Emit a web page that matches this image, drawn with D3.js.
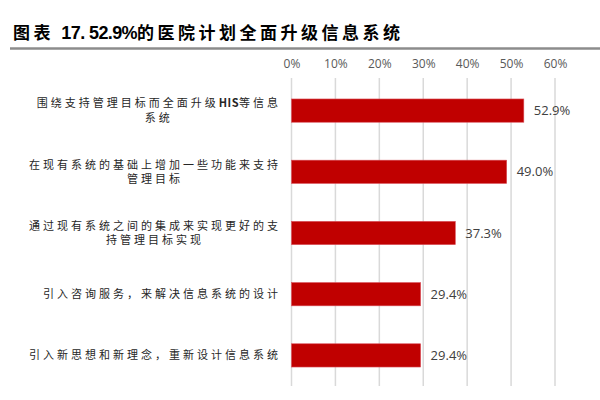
<!DOCTYPE html>
<html>
<head>
<meta charset="utf-8">
<script src="https://cdn.jsdelivr.net/npm/d3@7"></script>
<style>
  body { margin: 0; background: #fff; }
  svg { display: block; }
</style>
</head>
<body>
<div></div>
<script>
const width = 600;
const height = 400;

const categories = [
    "围绕支持管理目标而全面升级HIS等信息\n系统",
    "在现有系统的基础上增加一些功能来支持\n管理目标",
    "通过现有系统之间的集成来实现更好的支\n持管理目标实现",
    "引入咨询服务，来解决信息系统的设计",
    "引入新思想和新理念，重新设计信息系统"
];
const values = [52.9, 49.0, 37.3, 29.4, 29.4];
const tickValues = [0, 10, 20, 30, 40, 50, 60];

const svg = d3.select('div')
    .append('svg')
    .attr('width', width)
    .attr('height', height);

// title
const title = svg.append('text')
    .attr('x', 13)
    .attr('y', 39)
    .attr('fill', '#000')
    .style('font-weight', 'bold');
title.append('tspan')
    .style('font-family', '"Noto Sans CJK SC"')
    .style('font-size', '17px')
    .style('letter-spacing', '3.5px')
    .text('图表 ');
title.append('tspan')
    .style('font-family', '"Liberation Sans", Arial')
    .style('font-size', '18px')
    .style('letter-spacing', '-0.6px')
    .text('17. 52.9%');
title.append('tspan')
    .style('font-family', '"Noto Sans CJK SC"')
    .style('font-size', '17px')
    .style('letter-spacing', '3.5px')
    .text('的医院计划全面升级信息系统');

svg.append('line')
    .attr('x1', 10).attr('x2', 600)
    .attr('y1', 48.5).attr('y2', 48.5)
    .attr('stroke', '#8c8c8c')
    .attr('stroke-width', 2.5);

const x = d3.scaleLinear()
    .domain([0, 60])
    .range([291.5, 555]);

const y = d3.scaleBand()
    .domain(categories)
    .range([80, 386])
    .paddingInner(0.62)
    .paddingOuter(0.31);

// grid lines
svg.append('g')
    .selectAll('line')
    .data(tickValues)
    .join('line')
    .attr('x1', d => x(d)).attr('x2', d => x(d))
    .attr('y1', 78).attr('y2', 386)
    .attr('stroke', '#d9d9d9')
    .attr('stroke-width', 1.5);

// top axis labels
const xAxis = svg.append('g')
    .attr('transform', 'translate(0,68)')
    .call(d3.axisTop(x).tickValues(tickValues).tickFormat(d => d + '%').tickSize(0).tickPadding(0));
xAxis.select('.domain').remove();
xAxis.selectAll('text')
    .attr('fill', '#595959')
    .style('font-family', '"Open Sans", sans-serif')
    .style('font-size', '12px');

// bars
svg.append('g')
    .selectAll('rect')
    .data(values)
    .join('rect')
    .attr('x', x(0))
    .attr('y', (d, i) => y(categories[i]))
    .attr('width', d => x(d) - x(0))
    .attr('height', y.bandwidth())
    .attr('fill', '#c00000')
    .attr('stroke', '#d9505a')
    .attr('stroke-width', 0.6);

// value labels
svg.append('g')
    .selectAll('text')
    .data(values)
    .join('text')
    .attr('x', d => x(d) + 10)
    .attr('y', (d, i) => y(categories[i]) + y.bandwidth() / 2)
    .attr('dy', '0.36em')
    .attr('fill', '#404040')
    .style('font-family', '"Open Sans", sans-serif')
    .style('font-size', '13px')
    .text(d => d.toFixed(1) + '%');

// category labels, lines centred in a block that is right aligned
const labelRight = 281;
const lineH = 14.5;
categories.forEach((c, i) => {
    const lines = c.split('\n');
    const cy = y(c) + y.bandwidth() / 2;
    const g = svg.append('g');
    const texts = g.selectAll('text')
        .data(lines)
        .join('text')
        .attr('y', (d, j) => cy + (j - (lines.length - 1) / 2) * lineH)
        .attr('dy', '0.36em')
        .attr('text-anchor', 'middle')
        .attr('fill', '#262626')
        .style('font-family', '"Noto Sans CJK SC"')
        .style('font-size', '11px');
    // latin runs (HIS) are set tight and bold, CJK runs spaced out
    texts.each(function(d) {
        const runs = d.match(/[A-Za-z0-9]+|[^A-Za-z0-9]+/g);
        d3.select(this).selectAll('tspan')
            .data(runs)
            .join('tspan')
            .style('letter-spacing', r => /[A-Za-z0-9]/.test(r) ? '0.5px' : '3px')
            .style('font-weight', r => /[A-Za-z0-9]/.test(r) ? 'bold' : 'normal')
            .text(r => r);
    });
    let maxW = 0;
    texts.each(function() { maxW = Math.max(maxW, this.getComputedTextLength()); });
    texts.attr('x', labelRight - maxW / 2);
});
</script>
</body>
</html>
